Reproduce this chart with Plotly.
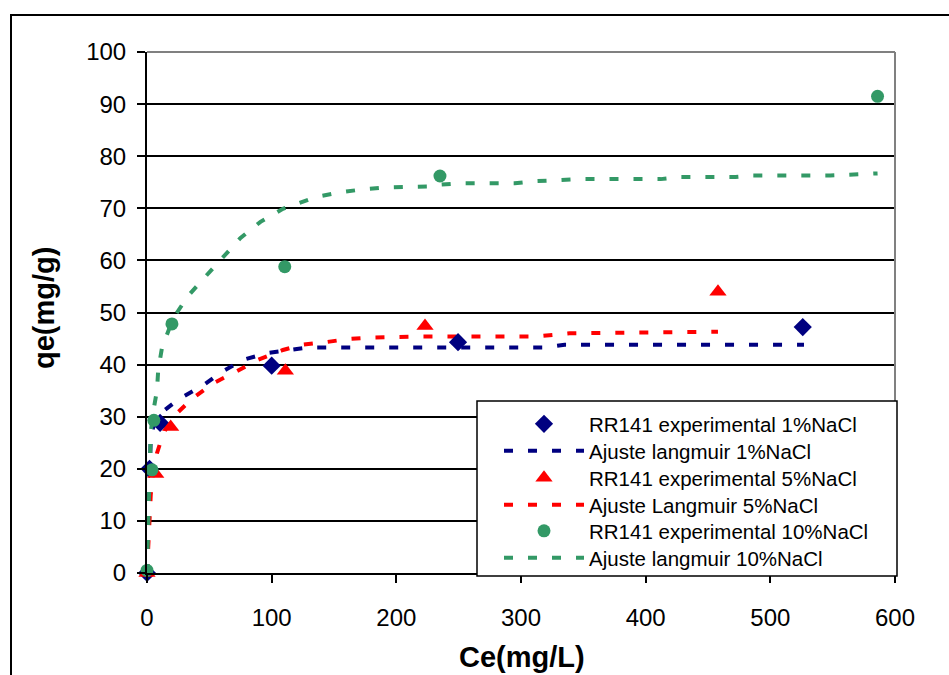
import plotly.graph_objects as go

# Experimental isotherm points (Ce in mg/L, qe in mg/g)
ce_exp_1 = [0, 2, 10.5, 100, 249.5, 526]
qe_exp_1 = [0, 20, 28.8, 39.8, 44.3, 47.2]

ce_exp_5 = [0, 7, 19, 111, 223, 458]
qe_exp_5 = [0, 19, 28, 38.8, 47.4, 54]

ce_exp_10 = [0, 4, 5.5, 20, 110.5, 235, 586]
qe_exp_10 = [0.5, 19.8, 29.3, 47.8, 58.8, 76.2, 91.5]

# Langmuir fitted curves
ce_fit_1 = [0, 0.5, 1, 1.5, 2, 3, 5, 10, 25, 45, 60, 77, 96, 112, 130, 320, 335, 527]
qe_fit_1 = [0, 5, 10, 17, 22, 26, 28, 30.5, 33.3, 36, 38.6, 40.9, 42.2, 42.8, 43.3, 43.3, 43.8, 43.8]

ce_fit_5 = [0, 1, 2, 3, 5, 8, 12, 18.5, 36, 53, 71, 89, 109, 124, 143, 161, 181, 220,
            311, 339, 458]
qe_fit_5 = [0, 6, 11, 15, 19.5, 23, 26, 29.4, 33.4, 36.4, 38.6, 40.9, 42.8, 43.8, 44.3,
            44.9, 45.2, 45.4, 45.4, 46.0, 46.3]

ce_fit_10 = [0, 1, 2, 3, 5, 8, 9, 12, 21, 33, 48, 61, 75, 91, 109, 117, 136, 156, 175,
             191, 225, 233, 251, 295, 311, 330, 347, 412, 428, 472, 486, 548, 563, 586]
qe_fit_10 = [0, 10, 20, 27, 31, 35, 39, 43.2, 48.9, 53.2, 57.2, 60.6, 64.3, 67.4, 69.9,
             70.6, 72.2, 73.1, 73.7, 74.0, 74.2, 74.5, 74.8, 74.8, 75.2, 75.4, 75.6, 75.6,
             76.0, 76.0, 76.3, 76.3, 76.5, 76.7]

x_ticks = [0, 100, 200, 300, 400, 500, 600]
y_ticks = [0, 10, 20, 30, 40, 50, 60, 70, 80, 90, 100]

NAVY = "#000080"
RED = "#FF0000"
GREEN = "#339966"
FONT = "Liberation Sans, Arial, sans-serif"
DASH = "9px,15px"

# plot area in pixels, used to place paper-referenced decorations
L, R, T, B = 147, 895, 52, 573


def px_x(p):
    return (p - L) / (R - L)


def px_y(p):
    return (B - p) / (B - T)


fig = go.Figure()

# fitted curves first so the markers sit on top
fits = [
    (ce_fit_1, qe_fit_1, NAVY, "Ajuste langmuir 1%NaCl", "legend2"),
    (ce_fit_5, qe_fit_5, RED, "Ajuste Langmuir 5%NaCl", "legend4"),
    (ce_fit_10, qe_fit_10, GREEN, "Ajuste langmuir 10%NaCl", "legend6"),
]
for xs, ys, col, name, lg in fits:
    fig.add_trace(go.Scatter(
        x=xs, y=ys, mode="lines", name=name, legend=lg, showlegend=True,
        line=dict(color=col, width=4, dash=DASH),
        cliponaxis=False,
    ))

points = [
    (ce_exp_1, qe_exp_1, NAVY, "diamond", 14, "RR141 experimental 1%NaCl", "legend"),
    (ce_exp_5, qe_exp_5, RED, "triangle-up", 15, "RR141 experimental 5%NaCl", "legend3"),
    (ce_exp_10, qe_exp_10, GREEN, "circle", 13, "RR141 experimental 10%NaCl", "legend5"),
]
for xs, ys, col, sym, size, name, lg in points:
    fig.add_trace(go.Scatter(
        x=xs, y=ys, mode="markers", name=name, legend=lg, showlegend=True,
        marker=dict(color=col, symbol=sym, size=size, line=dict(width=0)),
        cliponaxis=False,
    ))

axis_common = dict(
    showline=True, linecolor="black", linewidth=2,
    ticks="outside", ticklen=8, tickwidth=2, tickcolor="black",
    tickfont=dict(family=FONT, size=24, color="black"),
    zeroline=False,
)

fig.update_xaxes(range=[0, 600], tickvals=x_ticks, showgrid=False,
                 ticklabelstandoff=14, **axis_common)
fig.update_yaxes(range=[0, 100], tickvals=y_ticks, showgrid=True,
                 gridcolor="black", gridwidth=1.5, ticklabelstandoff=6,
                 **axis_common)

# axis titles
fig.add_annotation(text="<b>Ce(mg/L)</b>", xref="paper", yref="paper",
                   x=px_x(522), y=px_y(657), xanchor="center", yanchor="middle",
                   showarrow=False, font=dict(family=FONT, size=29, color="black"))
fig.add_annotation(text="<b>qe(mg/g)</b>", xref="paper", yref="paper",
                   x=px_x(44), y=px_y(308), xanchor="center", yanchor="middle",
                   textangle=-90, showarrow=False,
                   font=dict(family=FONT, size=29, color="black"))

# grey frame on top and right of the plotting area
fig.add_shape(type="line", xref="paper", yref="paper", x0=0, x1=1, y0=1, y1=1,
              line=dict(color="#808080", width=2))
fig.add_shape(type="line", xref="paper", yref="paper", x0=1, x1=1, y0=0, y1=1,
              line=dict(color="#808080", width=2))
# legend box
fig.add_shape(type="rect", xref="paper", yref="paper",
              x0=px_x(477), x1=px_x(897), y0=px_y(576), y1=px_y(401),
              fillcolor="white", line=dict(color="black", width=1.5), layer="above")
# outer chart border
fig.add_shape(type="rect", xref="paper", yref="paper",
              x0=px_x(11), x1=1.2, y0=-0.3, y1=px_y(15),
              line=dict(color="black", width=2), layer="below")

# one single-entry legend per row, stacked inside the legend box
row_centres = [424, 451, 478, 505, 531, 558]
legend_keys = ["legend", "legend2", "legend3", "legend4", "legend5", "legend6"]
legends = {}
for key, yc in zip(legend_keys, row_centres):
    legends[key] = dict(
        x=px_x(499), y=px_y(yc), xanchor="left", yanchor="middle",
        bgcolor="rgba(0,0,0,0)", borderwidth=0,
        font=dict(family=FONT, size=20.5, color="black"),
        itemwidth=80,
    )

fig.update_layout(
    width=949, height=675,
    margin=dict(l=L, r=949 - R, t=T, b=675 - B),
    paper_bgcolor="white", plot_bgcolor="white",
    font=dict(family=FONT, color="black"),
    showlegend=True,
    **legends,
)

fig.write_html("out.html")
